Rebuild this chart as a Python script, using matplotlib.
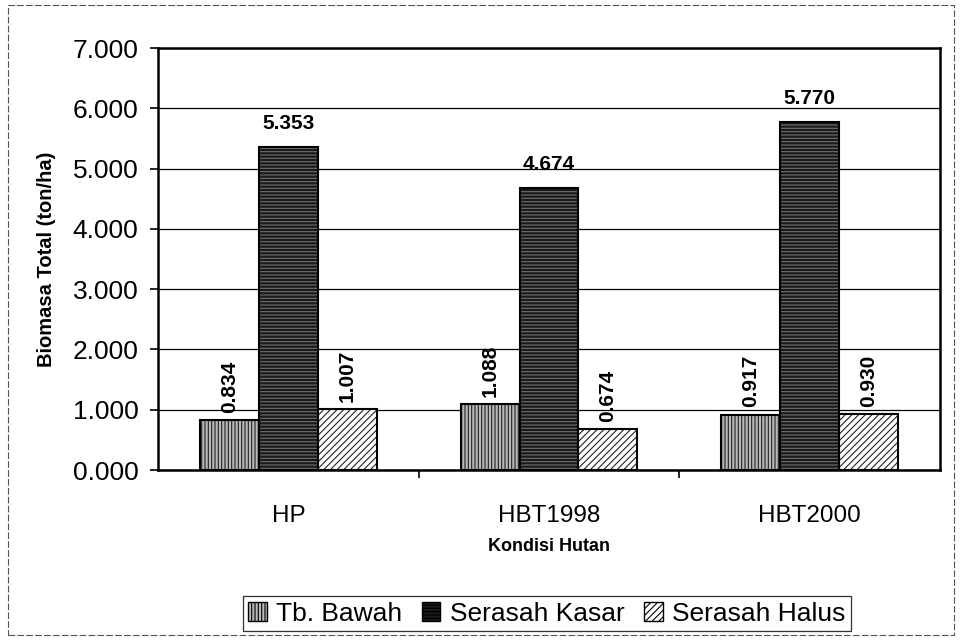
import matplotlib.pyplot as plt
import matplotlib.patches as mpatches
import numpy as np

plt.rcParams['font.family'] = ['Liberation Sans', 'DejaVu Sans']
plt.rcParams['hatch.linewidth'] = 0.8

kondisi = ["HP", "HBT1998", "HBT2000"]
series = ["Tb. Bawah", "Serasah Kasar", "Serasah Halus"]
tb_bawah = [0.834, 1.088, 0.917]
serasah_kasar = [5.353, 4.674, 5.770]
serasah_halus = [1.007, 0.674, 0.930]

fig = plt.figure(figsize=(9.61, 6.4), dpi=100)
ax = fig.add_axes([0.1644, 0.2656, 0.8137, 0.6594])

x = np.arange(len(kondisi))
w = 0.226
styles = [
    dict(color="#b8b8b8", hatch="|||||", edgecolor="#222222"),
    dict(color="#1a1a1a", hatch="-----", edgecolor="#707070"),
    dict(color="#ffffff", hatch="/////", edgecolor="#222222"),
]
data = [tb_bawah, serasah_kasar, serasah_halus]
for i, (vals, st) in enumerate(zip(data, styles)):
    ax.bar(x + (i - 1) * w, vals, w, facecolor=st["color"], hatch=st["hatch"],
           edgecolor=st["edgecolor"], linewidth=0, zorder=3)
    # garis tepi hitam
    ax.bar(x + (i - 1) * w, vals, w, facecolor="none", edgecolor="black", linewidth=1.5, zorder=4)

# label nilai
for i, vals in enumerate(data):
    for j, v in enumerate(vals):
        xp = x[j] + (i - 1) * w
        if i == 1:
            ax.text(xp, v + 0.24, f"{v:.3f}", ha="center", va="bottom",
                    fontsize=15, fontweight="bold")
        else:
            ax.text(xp, v + 0.12, f"{v:.3f}", ha="center", va="bottom",
                    rotation=90, fontsize=15, fontweight="bold")

ax.set_ylim(0, 7)
ax.set_xlim(-0.5, 2.5)
ax.set_yticks(np.arange(0, 8, 1))
ax.set_yticklabels([f"{v:.3f}" for v in np.arange(0, 8, 1)], fontsize=19)
ax.set_xticks(x)
ax.set_xticklabels(kondisi, fontsize=17.5)
ax.set_xticks([0.5, 1.5], minor=True)
ax.tick_params(axis="x", which="major", length=0, pad=25)
ax.tick_params(axis="x", which="minor", length=6, width=1.2, direction="out")
ax.tick_params(axis="y", length=6, width=1.2, direction="out", pad=8)
ax.grid(axis="y", color="black", linewidth=0.9, zorder=0)
for s in ax.spines.values():
    s.set_linewidth(1.8)

ax.set_ylabel("Biomasa Total (ton/ha)", fontsize=14.5, fontweight="bold", labelpad=12)
ax.set_xlabel("Kondisi Hutan", fontsize=13, fontweight="bold", labelpad=8)

handles = [mpatches.Patch(facecolor=st["color"], hatch=st["hatch"], edgecolor="black")
           for st in styles]
leg = fig.legend(handles, series, loc="center", bbox_to_anchor=(0.569, 0.041), ncol=3,
                 fontsize=19, frameon=True, fancybox=False, edgecolor="black",
                 handlelength=0.7, handleheight=0.7, handletextpad=0.35,
                 columnspacing=0.75, borderpad=0.2)
leg.get_frame().set_linewidth(0.9)

# bingkai luar grafik
fig.patches.append(mpatches.Rectangle((0.008, 0.008), 0.985, 0.984, transform=fig.transFigure,
                                      fill=False, edgecolor="#555555", linewidth=0.8,
                                      linestyle=(0, (6, 2))))

fig.savefig("out.png", dpi=100)
